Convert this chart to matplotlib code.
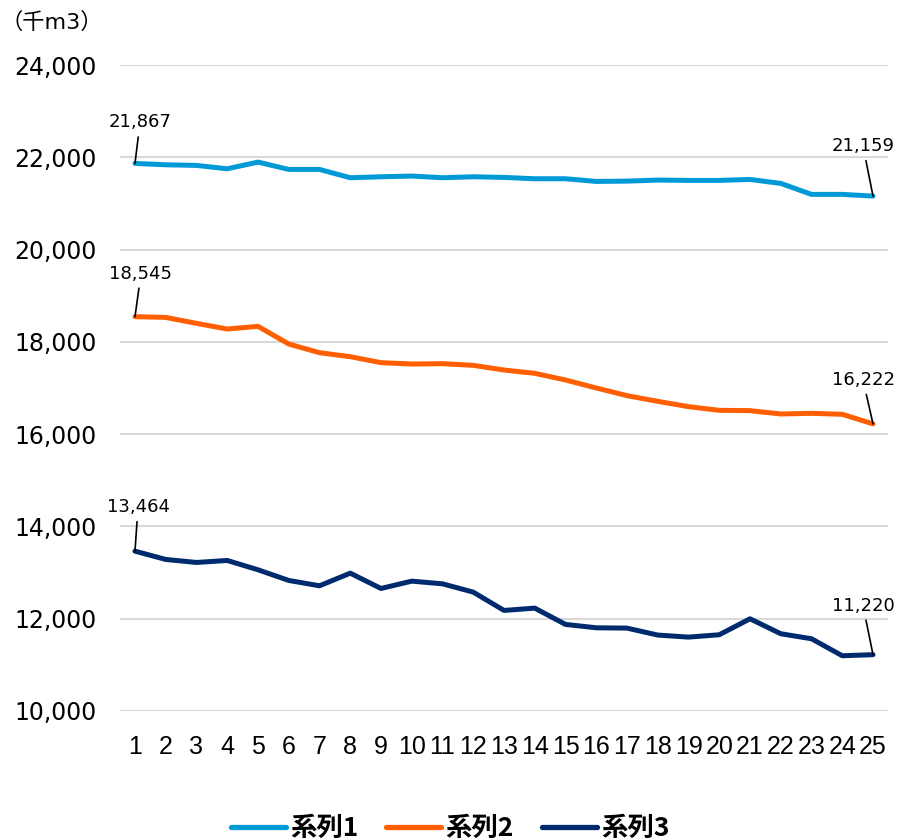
import matplotlib
matplotlib.use("Agg")
import matplotlib.pyplot as plt

x_labels = [str(i) for i in range(1, 26)]
series_names = ["系列1", "系列2", "系列3"]
s1 = [21867, 21838, 21824, 21751, 21896, 21737, 21737, 21557, 21578, 21593,
      21557, 21578, 21564, 21535, 21535, 21477, 21484, 21506, 21499, 21499,
      21520, 21434, 21196, 21196, 21159]
s2 = [18545, 18530, 18401, 18278, 18336, 17953, 17765, 17679, 17549, 17520,
      17527, 17491, 17390, 17318, 17173, 17000, 16834, 16711, 16596, 16516,
      16509, 16437, 16451, 16430, 16222]
s3 = [13464, 13284, 13219, 13262, 13060, 12829, 12713, 12987, 12655, 12814,
      12756, 12576, 12179, 12229, 11876, 11803, 11796, 11645, 11601, 11652,
      11998, 11674, 11565, 11197, 11220]
colors = ["#009ad6", "#ff5f00", "#002a6e"]
y_ticks = [10000, 12000, 14000, 16000, 18000, 20000, 22000, 24000]
unit_label = "（千m3）"

fig = plt.figure(figsize=(9, 8.4), dpi=100)
ax = fig.add_axes([0.1329, 0.1536, 0.8542, 0.769])
xs = list(range(1, 26))
for vals, c, n in zip([s1, s2, s3], colors, series_names):
    ax.plot(xs, vals, color=c, lw=3.6, label=n, solid_capstyle="round",
            solid_joinstyle="round", zorder=3)

ax.set_xlim(0.5, 25.5)
ax.set_ylim(10000, 24000)
ax.set_yticks(y_ticks)
ax.set_yticklabels([f"{v:,}" for v in y_ticks], fontsize=17, family="DejaVu Sans")
ax.set_xticks(xs)
ax.set_xticklabels(x_labels, fontsize=18, family="Liberation Sans")
ax.tick_params(axis="both", length=0)
ax.tick_params(axis="y", pad=16.5)
ax.tick_params(axis="x", pad=17)
ax.grid(axis="y", color="#d9d9d9", lw=1.5, zorder=0)
for sp in ax.spines.values():
    sp.set_visible(False)

offsets = {
    (0, 0): (3.6, 29.5), (0, 24): (-7.2, 36),
    (1, 0): (4.3, 31), (1, 24): (-7.2, 31.7),
    (2, 0): (2.2, 31.7), (2, 24): (-7.2, 35.3),
}
for si, vals in enumerate([s1, s2, s3]):
    for idx in (0, 24):
        ax.annotate(f"{vals[idx]:,}", xy=(xs[idx], vals[idx]),
                    xytext=offsets[(si, idx)], textcoords="offset points",
                    ha="center", va="center", fontsize=13, family="DejaVu Sans",
                    arrowprops=dict(arrowstyle="-", color="black", lw=1.2,
                                    shrinkA=2, shrinkB=0), zorder=4)

fig.text(0.001, 0.974, unit_label, fontsize=16,
         family=["DejaVu Sans", "Noto Sans CJK JP"], ha="left", va="center")

leg = fig.legend(loc="center", bbox_to_anchor=(0.5, 0.014), ncol=3,
                 frameon=False, handlelength=2.1, columnspacing=1.05,
                 handletextpad=0.15,
                 prop=dict(family=["Noto Sans CJK JP", "DejaVu Sans"],
                           weight="bold", size=19))
for h in leg.get_lines():
    h.set_linewidth(3.8)

fig.savefig("out.png", dpi=100)
